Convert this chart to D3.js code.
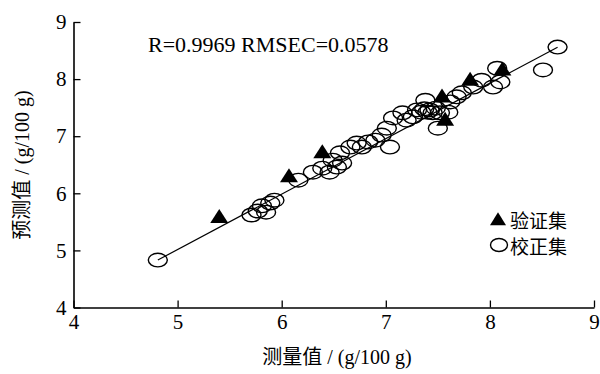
<!DOCTYPE html>
<html>
<head>
<meta charset="utf-8">
<script src="https://cdn.jsdelivr.net/npm/d3@7"></script>
<style>
  html, body { margin: 0; padding: 0; background: #fff; }
  svg { display: block; }
</style>
</head>
<body>
<svg id="chart" width="600" height="374"></svg>
<script>
// Calibration set (measured, predicted), g/100 g
const calMeasured = [4.81, 5.71, 5.77, 5.81, 5.85, 5.89, 5.93, 6.16, 6.30, 6.39,
  6.46, 6.53, 6.49, 6.58, 6.56, 6.66, 6.72, 6.77, 6.83, 6.90,
  6.96, 7.04, 7.01, 7.07, 7.16, 7.20, 7.26, 7.30, 7.38, 7.40,
  7.42, 7.45, 7.48, 7.52, 7.60, 7.50, 7.62, 7.68, 7.73, 7.84,
  7.92, 8.07, 8.10, 8.03, 8.51, 8.65, 7.34, 7.37];
const calPredicted = [4.83, 5.62, 5.69, 5.78, 5.67, 5.83, 5.88, 6.23, 6.37, 6.44,
  6.37, 6.46, 6.58, 6.53, 6.71, 6.81, 6.88, 6.81, 6.90, 6.93,
  7.02, 6.81, 7.14, 7.32, 7.41, 7.28, 7.34, 7.46, 7.63, 7.42,
  7.46, 7.41, 7.49, 7.41, 7.42, 7.14, 7.60, 7.69, 7.76, 7.86,
  7.98, 8.19, 7.95, 7.86, 8.16, 8.56, 7.42, 7.48];

// Validation set (measured, predicted)
const valMeasured = [5.40, 6.07, 6.39, 7.54, 7.57, 7.81, 8.12];
const valPredicted = [5.58, 6.29, 6.71, 7.69, 7.28, 7.98, 8.16];

// Fitted line: predicted = slope * measured + intercept
const fitSlope = 0.971;
const fitIntercept = 0.16;
const fitRange = [4.81, 8.65];

const xTicks = [4, 5, 6, 7, 8, 9];
const yTicks = [4, 5, 6, 7, 8, 9];

const statsText = "R=0.9969 RMSEC=0.0578";
const xTitle = "测量值 / (g/100 g)";
const yTitle = "预测值 / (g/100 g)";
const legendLabels = ["验证集", "校正集"];

const svg = d3.select("#chart");
const serif = "Liberation Serif, Times New Roman, serif";
const cjk = "Noto Sans CJK SC, Liberation Serif, serif";

const x = d3.scaleLinear().domain([4, 9]).range([73.5, 594]);
const y = d3.scaleLinear().domain([4, 9]).range([307.5, 22]);

// Axes with inward ticks
const gx = svg.append("g")
  .attr("transform", `translate(0,${y(4)})`)
  .call(d3.axisBottom(x).tickValues(xTicks).tickFormat(d3.format("d"))
    .tickSizeInner(-7).tickSizeOuter(0).tickPadding(7));
const gy = svg.append("g")
  .attr("transform", `translate(${x(4)},0)`)
  .call(d3.axisLeft(y).tickValues(yTicks).tickFormat(d3.format("d"))
    .tickSizeInner(-7).tickSizeOuter(0).tickPadding(7));

[gx, gy].forEach(g => {
  g.attr("font-family", serif).attr("font-size", 21);
  g.selectAll("path.domain").attr("stroke", "#000").attr("stroke-width", 1.6);
  g.selectAll(".tick line").attr("stroke", "#000").attr("stroke-width", 1.3);
  g.selectAll(".tick text").attr("fill", "#000");
});

// Fitted line
svg.append("line")
  .attr("x1", x(fitRange[0])).attr("y1", y(fitSlope * fitRange[0] + fitIntercept))
  .attr("x2", x(fitRange[1])).attr("y2", y(fitSlope * fitRange[1] + fitIntercept))
  .attr("stroke", "#000").attr("stroke-width", 1.2);

// Calibration points (open ellipses)
const calData = calMeasured.map((m, i) => [m, calPredicted[i]]);
svg.append("g").selectAll("ellipse")
  .data(calData).join("ellipse")
  .attr("cx", d => x(d[0])).attr("cy", d => y(d[1]))
  .attr("rx", 9.5).attr("ry", 6.8)
  .attr("fill", "none").attr("stroke", "#000").attr("stroke-width", 1.4);

// Validation points (filled triangles)
const tri = (w, h) => `M0,${-h * 0.6}L${w / 2},${h * 0.4}L${-w / 2},${h * 0.4}Z`;
const valData = valMeasured.map((m, i) => [m, valPredicted[i]]);
svg.append("g").selectAll("path")
  .data(valData).join("path")
  .attr("transform", d => `translate(${x(d[0])},${y(d[1])})`)
  .attr("d", tri(18, 14))
  .attr("fill", "#000");

// Statistics
svg.append("text")
  .attr("x", 148).attr("y", 52)
  .attr("font-family", serif).attr("font-size", 22)
  .text(statsText);

// Legend
const lg = svg.append("g");
lg.append("path").attr("transform", "translate(498,220)").attr("d", tri(16, 13)).attr("fill", "#000");
lg.append("ellipse").attr("cx", 499).attr("cy", 245).attr("rx", 8.5).attr("ry", 6.5)
  .attr("fill", "none").attr("stroke", "#000").attr("stroke-width", 1.4);
legendLabels.forEach((t, i) => {
  lg.append("text")
    .attr("x", 510).attr("y", 219 + i * 26)
    .attr("dominant-baseline", "central")
    .attr("font-family", cjk).attr("font-size", 19)
    .text(t);
});

// Axis titles: CJK part then Latin unit part
const mixTitle = (sel, str) => {
  const cn = str.slice(0, 3), rest = str.slice(3);
  sel.append("tspan").attr("font-family", cjk).text(cn);
  sel.append("tspan").attr("font-family", serif).text(rest);
};
const xt = svg.append("text")
  .attr("x", 337).attr("y", 364)
  .attr("text-anchor", "middle").attr("font-size", 20);
mixTitle(xt, xTitle);

const yt = svg.append("text")
  .attr("transform", "translate(29,165) rotate(-90)")
  .attr("text-anchor", "middle").attr("font-size", 20);
mixTitle(yt, yTitle);
</script>
</body>
</html>
